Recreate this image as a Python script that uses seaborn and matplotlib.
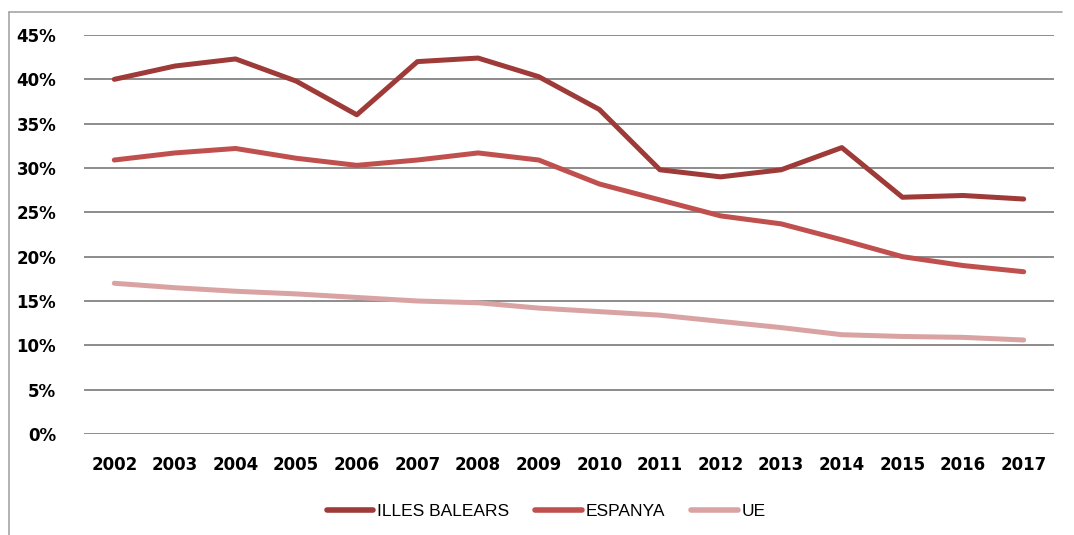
import matplotlib
matplotlib.use("Agg")
import matplotlib.pyplot as plt
import seaborn as sns
import pandas as pd
from matplotlib.lines import Line2D

years = [str(y) for y in range(2002, 2018)]
illes_balears = [40.0, 41.5, 42.3, 39.8, 36.0, 42.0, 42.4, 40.3, 36.6, 29.8, 29.0, 29.8, 32.3, 26.7, 26.9, 26.5]
espanya = [30.9, 31.7, 32.2, 31.1, 30.3, 30.9, 31.7, 30.9, 28.2, 26.4, 24.6, 23.7, 21.9, 20.0, 19.0, 18.3]
ue = [17.0, 16.5, 16.1, 15.8, 15.4, 15.0, 14.8, 14.2, 13.8, 13.4, 12.7, 12.0, 11.2, 11.0, 10.9, 10.6]
series_names = ["ILLES BALEARS", "ESPANYA", "UE"]
colors = ["#9E3A38", "#C0504D", "#D9A3A3"]
yticks = [0, 5, 10, 15, 20, 25, 30, 35, 40, 45]

df = pd.DataFrame({"year": years * 3,
                   "value": illes_balears + espanya + ue,
                   "series": sum([[n] * len(years) for n in series_names], [])})

sns.set_style("white")
fig = plt.figure(figsize=(10.74, 5.35), dpi=100)
ax = fig.add_axes([84/1074, 1-434/535, (1054-84)/1074, (434-35)/535])

sns.lineplot(data=df, x="year", y="value", hue="series", palette=colors,
             hue_order=series_names, sort=False, linewidth=3.6, ax=ax,
             legend=False, solid_capstyle="round")

ax.set_xlim(-0.5, len(years) - 0.5)
ax.set_ylim(0, 45)
ax.set_yticks(yticks)
ax.set_yticklabels([f"{t}%" for t in yticks], fontsize=12, fontweight="bold",
                   family="DejaVu Sans", color="black")
ax.set_xticks(range(len(years)))
ax.set_xticklabels(years, fontsize=12, fontweight="bold", family="DejaVu Sans",
                   color="black")
ax.tick_params(axis="y", length=0, pad=20)
ax.tick_params(axis="x", length=0, pad=16)
ax.set_xlabel("")
ax.set_ylabel("")
for s in ax.spines.values():
    s.set_visible(False)
ax.yaxis.grid(True, color="#8C8C8C", linewidth=1.4)
ax.set_axisbelow(True)

handles = [Line2D([0], [0], color=c, lw=4, solid_capstyle="round") for c in colors]
leg = fig.legend(handles, series_names, loc="center", bbox_to_anchor=(546/1074, 1-511/535),
                 ncol=3, frameon=False, handlelength=2.7, handletextpad=0.2,
                 columnspacing=1.5, prop={"family": "Liberation Sans", "size": 12.5})
for t in leg.get_texts():
    t.set_color("black")

# outer chart frame (left and top edges visible)
fig.add_artist(Line2D([9/1074, 9/1074], [0, 1-12/535], color="#A6A6A6", lw=1.2,
                      transform=fig.transFigure))
fig.add_artist(Line2D([9/1074, 1062/1074], [1-12/535, 1-12/535], color="#A6A6A6", lw=1.2,
                      transform=fig.transFigure))

fig.savefig("out.png", dpi=100)
